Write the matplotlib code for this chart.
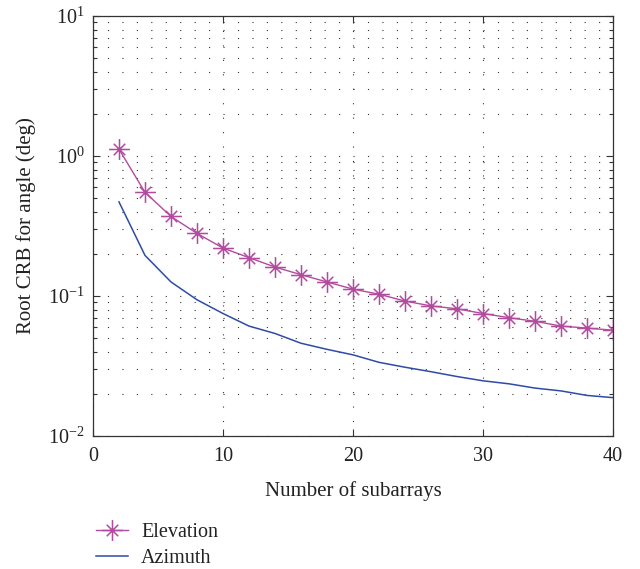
import matplotlib
matplotlib.use("Agg")
import matplotlib.pyplot as plt
from matplotlib.path import Path
from matplotlib.ticker import LogLocator, NullFormatter, FixedLocator

plt.rcParams['font.family'] = ['Liberation Serif', 'DejaVu Serif']
plt.rcParams['mathtext.fontset'] = 'stix'

subarrays = [2, 4, 6, 8, 10, 12, 14, 16, 18, 20, 22, 24, 26, 28, 30, 32, 34, 36, 38, 40]
elevation = [1.12, 0.55, 0.37, 0.28, 0.22, 0.188, 0.161, 0.142, 0.126, 0.112,
             0.103, 0.092, 0.085, 0.081, 0.075, 0.070, 0.066, 0.061, 0.059, 0.057]
azimuth = [0.47, 0.195, 0.126, 0.094, 0.075, 0.061, 0.054, 0.046, 0.0416, 0.038,
           0.0336, 0.031, 0.0288, 0.0266, 0.0248, 0.0236, 0.022, 0.021, 0.0195, 0.0188]

elev_color = '#B24A9E'
azim_color = '#2E4BA6'

# asterisk marker: a long "+" overlaid with a shorter "x"
d = 0.55
star_path = Path(
    [(0, -1), (0, 1), (-1, 0), (1, 0), (-d, -d), (d, d), (-d, d), (d, -d)],
    [Path.MOVETO, Path.LINETO] * 4,
)

fig = plt.figure(figsize=(6.4, 5.69), dpi=100)
ax = fig.add_axes([0.1453, 0.2337, 0.8125, 0.7382])

ax.plot(subarrays, elevation, color=elev_color, lw=1.0, marker=star_path,
        markersize=15, markeredgewidth=1.1, fillstyle='none', label='Elevation')
ax.plot(subarrays, azimuth, color=azim_color, lw=1.1, label='Azimuth')

ax.set_yscale('log')
ax.set_xlim(0, 40)
ax.set_ylim(1e-2, 1e1)
ax.xaxis.set_major_locator(FixedLocator([0, 10, 20, 30, 40]))
ax.yaxis.set_major_locator(LogLocator(base=10, numticks=10))
ax.yaxis.set_minor_locator(LogLocator(base=10, subs=range(2, 10), numticks=20))
ax.yaxis.set_minor_formatter(NullFormatter())

ax.tick_params(which='both', direction='in', top=True, right=True,
               labelsize=14.5, color='#333333', labelcolor='#222222')
ax.tick_params(which='major', length=5, width=0.8)
ax.tick_params(which='minor', length=3, width=0.8)
ax.tick_params(axis='x', pad=8)
ax.tick_params(axis='y', pad=6)

grid_style = dict(color='#333333', linestyle=(0, (1, 12)), linewidth=0.8)
ax.grid(True, which='major', axis='both', **grid_style)
ax.grid(True, which='minor', axis='y', **grid_style)

for sp in ax.spines.values():
    sp.set_color('#333333')
    sp.set_linewidth(0.9)

ax.set_xlabel('Number of subarrays', fontsize=15, labelpad=11, color='#222222')
ax.set_ylabel('Root CRB for angle (deg)', fontsize=15, labelpad=9, color='#222222')

leg = fig.legend(loc='center left', bbox_to_anchor=(0.137, 0.041), frameon=False,
                 fontsize=14.5, handlelength=1.6, handletextpad=0.65,
                 labelspacing=0.35, borderaxespad=0, borderpad=0.4)
for t in leg.get_texts():
    t.set_color('#222222')

fig.savefig('out.png', dpi=100)
